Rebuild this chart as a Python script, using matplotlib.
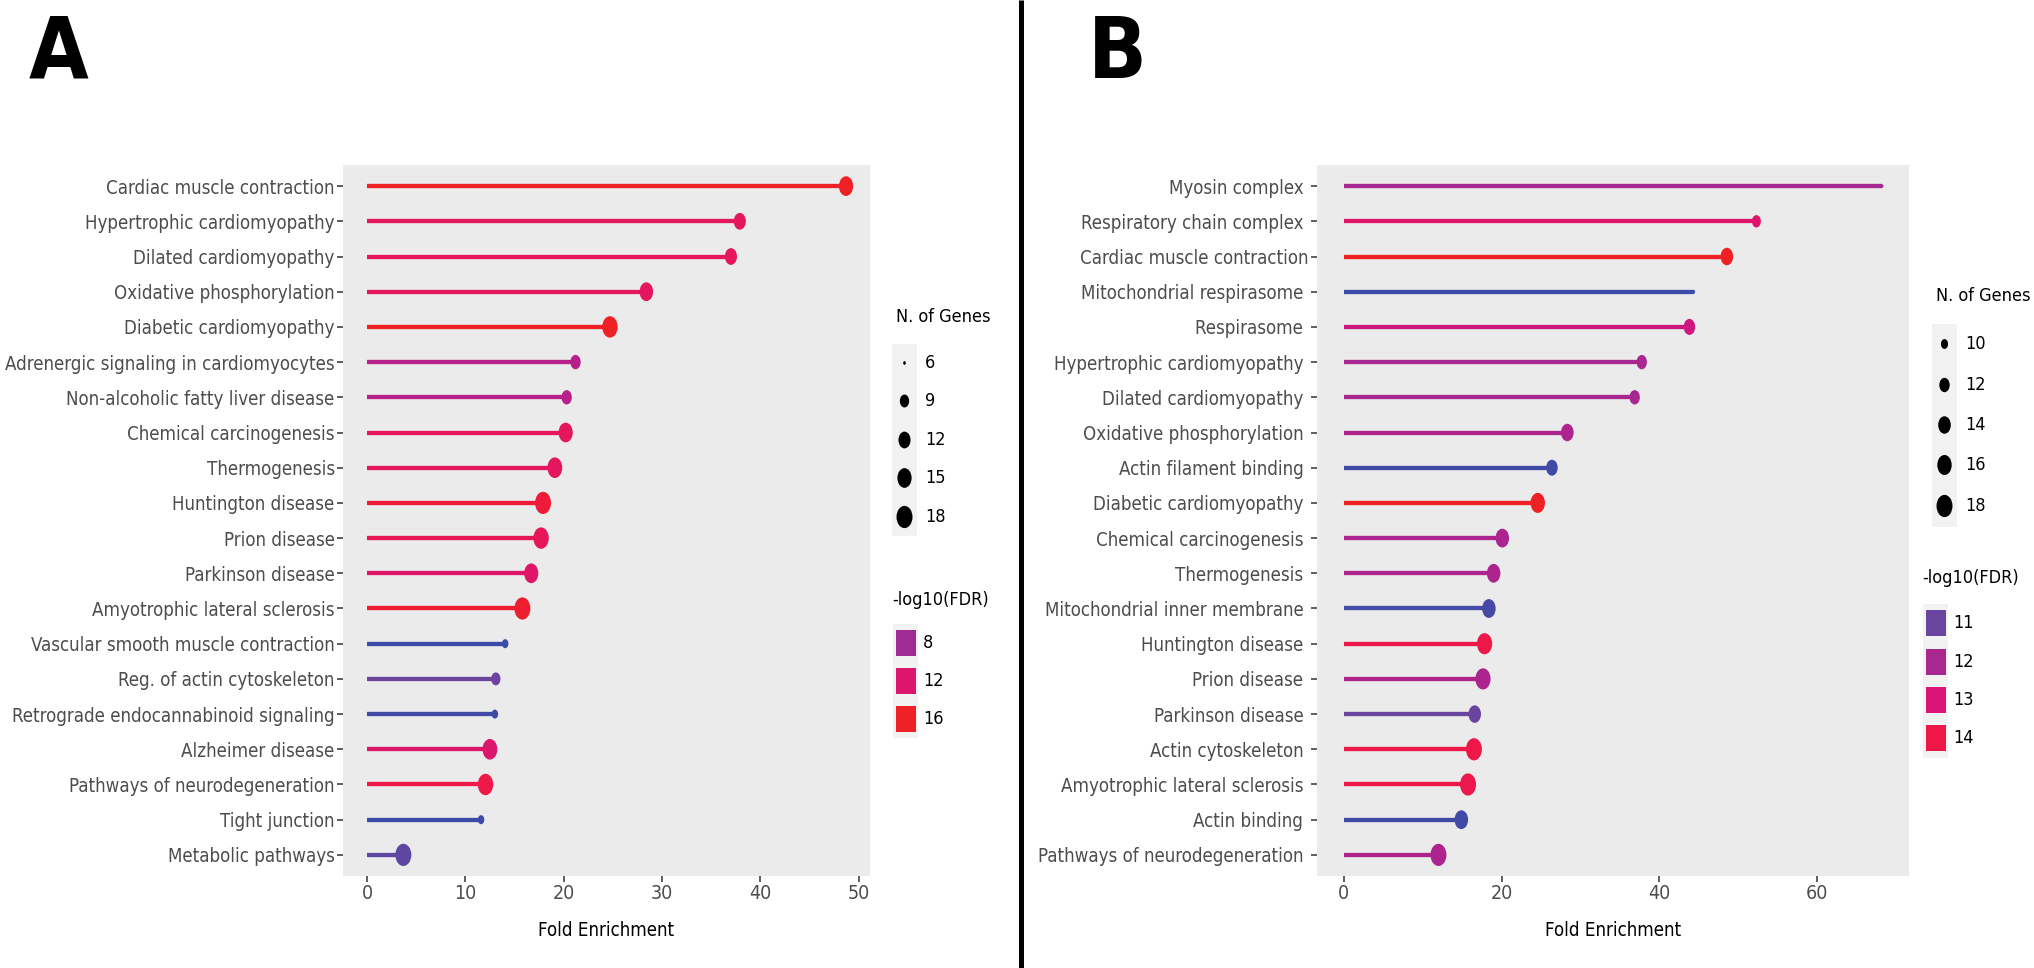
import numpy as np
import matplotlib
matplotlib.use("Agg")
import matplotlib.pyplot as plt
from matplotlib import font_manager
from matplotlib.font_manager import FontProperties
from matplotlib.colors import LinearSegmentedColormap, Normalize
from matplotlib.path import Path
from matplotlib.transforms import Affine2D
from matplotlib.patches import Rectangle

# ---- data, panel A (KEGG pathways) ----
terms_a = ["Cardiac muscle contraction", "Hypertrophic cardiomyopathy", "Dilated cardiomyopathy",
           "Oxidative phosphorylation", "Diabetic cardiomyopathy", "Adrenergic signaling in cardiomyocytes",
           "Non-alcoholic fatty liver disease", "Chemical carcinogenesis", "Thermogenesis",
           "Huntington disease", "Prion disease", "Parkinson disease", "Amyotrophic lateral sclerosis",
           "Vascular smooth muscle contraction", "Reg. of actin cytoskeleton",
           "Retrograde endocannabinoid signaling", "Alzheimer disease", "Pathways of neurodegeneration",
           "Tight junction", "Metabolic pathways"]
fold_a = [48.7, 37.9, 37.0, 28.4, 24.7, 21.2, 20.3, 20.2, 19.1, 17.9,
          17.7, 16.7, 15.8, 14.05, 13.1, 13.0, 12.5, 12.05, 11.6, 3.7]
genes_a = [15, 12, 12, 14, 17, 10, 10, 15, 16, 18, 17, 15, 18, 7, 9, 7, 16, 17, 7, 18]
fdr_a = [16.2, 13.1, 13.1, 13.1, 16.2, 9.3, 9.3, 13.0, 13.0, 15.0,
         13.3, 12.3, 15.5, 3.6, 5.7, 3.7, 12.0, 14.3, 3.6, 5.0]
size_breaks_a = [6, 9, 12, 15, 18]
color_breaks_a = [8, 12, 16]

# ---- data, panel B (GO terms + pathways) ----
terms_b = ["Myosin complex ", "Respiratory chain complex ", "Cardiac muscle contraction",
           "Mitochondrial respirasome ", "Respirasome ", "Hypertrophic cardiomyopathy ",
           "Dilated cardiomyopathy ", "Oxidative phosphorylation ", "Actin filament binding ",
           "Diabetic cardiomyopathy ", "Chemical carcinogenesis ", "Thermogenesis ",
           "Mitochondrial inner membrane ", "Huntington disease ", "Prion disease ",
           "Parkinson disease ", "Actin cytoskeleton ", "Amyotrophic lateral sclerosis ",
           "Actin binding ", "Pathways of neurodegeneration "]
fold_b = [68.3, 52.35, 48.6, 44.4, 43.85, 37.8, 36.9, 28.35, 26.4, 24.6,
          20.1, 19.0, 18.4, 17.85, 17.65, 16.6, 16.5, 15.75, 14.9, 12.0]
genes_b = [9, 11, 14, 9, 13, 12, 12, 14, 13, 16, 15, 15, 15, 17, 17, 14, 18, 18, 15, 18]
fdr_b = [12.0, 13.3, 14.6, 10.3, 12.7, 12.0, 12.0, 12.1, 10.4, 14.6,
         12.1, 12.1, 10.5, 14.0, 12.1, 11.0, 14.0, 13.9, 10.4, 12.1]
size_breaks_b = [10, 12, 14, 16, 18]
color_breaks_b = [11, 12, 13, 14]


# the source text is a narrow sans; use a condensed face if one is installed
def pick_font(bold):
    best = None
    for f in font_manager.fontManager.ttflist:
        narrow = ("Narrow" in f.name or "Condensed" in f.name
                  or str(f.stretch) in ("condensed", "semi-condensed"))
        w = f.weight if isinstance(f.weight, int) else (700 if "bold" in str(f.weight) else 400)
        if not narrow or f.style != "normal" or (w >= 600) != bold or w < 300:
            continue
        rank = 0 if "DejaVu" in f.name else 1 if "Liberation" in f.name else 2
        if best is None or rank < best[0]:
            best = (rank, f.fname)
    if best:
        return FontProperties(fname=best[1])
    return FontProperties(family="DejaVu Sans", weight="bold" if bold else "normal")


reg = pick_font(False)
bld = pick_font(True)

W, H = 2034, 968
fig = plt.figure(figsize=(W / 100, H / 100), dpi=100)
rend = fig.canvas.get_renderer()


def fit(text, width_px, prop=reg):
    p = prop.copy()
    p.set_size(10)
    w, _, _ = rend.get_text_width_height_descent(text, p, ismath=False)
    return 10 * width_px / w


fs_tick = fit("Cardiac muscle contraction", 230)
fs_title = fit("Fold Enrichment", 136)
fs_leg = fit("-log10(FDR)", 97)


def fp(size, prop=reg):
    p = prop.copy()
    p.set_size(size)
    return p


cmap = LinearSegmentedColormap.from_list(
    "fdr", [(0.0, "#3A4BA8"), (0.16, "#6A45A0"), (0.33, "#9A2D95"), (0.58, "#D4137F"),
            (0.85, "#EE1848"), (1.0, "#EE2222")])

# dots are slightly squeezed ellipses, like the source
ell = Path.unit_circle().transformed(Affine2D().scale(0.72, 1.0))


def dot_px(n, lo, hi):
    return 3.7 * (1 + 5 * np.sqrt((np.asarray(n, float) - lo) / (hi - lo)))


def panel(rect, terms, fold, genes, fdr, lo, hi, norm):
    ax = fig.add_axes(rect)
    ax.set_facecolor("#EBEBEB")
    y = np.arange(len(terms))
    cols = cmap(norm(np.array(fdr)))
    ax.hlines(y, 0, fold, colors=cols, linewidth=3.1, zorder=2)
    s = (dot_px(genes, lo, hi) * 0.72) ** 2
    ax.scatter(fold, y, s=s, c=cols, marker=ell, edgecolors="none", zorder=3)
    m = max(fold)
    ax.set_xlim(-0.05 * m, 1.05 * m)
    ax.set_ylim(len(terms) - 0.4, -0.6)
    ax.set_yticks(y)
    ax.set_yticklabels(terms, fontproperties=fp(fs_tick), color="#4D4D4D")
    for sp in ax.spines.values():
        sp.set_visible(False)
    ax.tick_params(axis="both", length=4, width=1.1, color="#333333", pad=2)
    ax.set_xlabel("Fold Enrichment", fontproperties=fp(fs_title), labelpad=13)
    return ax


top, bot = 165, 876
norm_a = Normalize(3.5, 16.3)
norm_b = Normalize(10.3, 14.65)
ax_a = panel([343 / W, 1 - bot / H, (870 - 343) / W, (bot - top) / H],
             terms_a, fold_a, genes_a, fdr_a, 6, 18, norm_a)
ax_a.set_xticks([0, 10, 20, 30, 40, 50])
ax_b = panel([1317 / W, 1 - bot / H, (1909 - 1317) / W, (bot - top) / H],
             terms_b, fold_b, genes_b, fdr_b, 9, 18, norm_b)
ax_b.set_xticks([0, 20, 40, 60])
for ax in (ax_a, ax_b):
    for lab in ax.get_xticklabels():
        lab.set_fontproperties(fp(fs_tick * 1.05))
        lab.set_color("#4D4D4D")

# overlay in pixel coordinates for letters, divider and legends
ov = fig.add_axes([0, 0, 1, 1])
ov.set_xlim(0, W)
ov.set_ylim(H, 0)
ov.axis("off")

ov.plot([1021, 1021], [0, H], color="black", linewidth=3.6, solid_capstyle="butt")
fs_letter = fit("B", 47, bld) * 1.25
ov.text(29, 78, "A", fontproperties=fp(fs_letter, bld), ha="left", va="baseline")
ov.text(1088, 78, "B", fontproperties=fp(fs_letter, bld), ha="left", va="baseline")


def size_legend(x0, title_y, ys, breaks, lo, hi):
    ov.text(x0 + 4, title_y, "N. of Genes", fontproperties=fp(fs_leg), ha="left", va="center")
    step = ys[1] - ys[0]
    ov.add_patch(Rectangle((x0, ys[0] - step / 2), 25, ys[-1] - ys[0] + step,
                           facecolor="#F2F2F2", edgecolor="none"))
    d = dot_px(breaks, lo, hi) * 0.72
    ov.scatter([x0 + 12.5] * len(breaks), ys, s=d ** 2, c="black", marker=ell,
               edgecolors="none", zorder=3)
    for yy, b in zip(ys, breaks):
        ov.text(x0 + 33, yy, str(b), fontproperties=fp(fs_leg), ha="left", va="center")


def color_legend(x0, title_y, ys, breaks, norm):
    ov.text(x0, title_y, "-log10(FDR)", fontproperties=fp(fs_leg), ha="left", va="center")
    step = ys[1] - ys[0]
    ov.add_patch(Rectangle((x0 + 1, ys[0] - step / 2), 25, ys[-1] - ys[0] + step,
                           facecolor="#F2F2F2", edgecolor="none"))
    for yy, b in zip(ys, breaks):
        ov.add_patch(Rectangle((x0 + 3.5, yy - 13), 20, 26, facecolor=cmap(norm(b)),
                               edgecolor="none"))
        ov.text(x0 + 31, yy, str(b), fontproperties=fp(fs_leg), ha="left", va="center")


size_legend(892, 317, [363, 401, 440, 478, 517], size_breaks_a, 6, 18)
color_legend(892, 600, [643, 681, 719], color_breaks_a, norm_a)
size_legend(1932, 296, [344, 385, 425, 465, 506], size_breaks_b, 9, 18)
color_legend(1922, 578, [623, 662, 700, 738], color_breaks_b, norm_b)

fig.savefig("out.png", dpi=100)
